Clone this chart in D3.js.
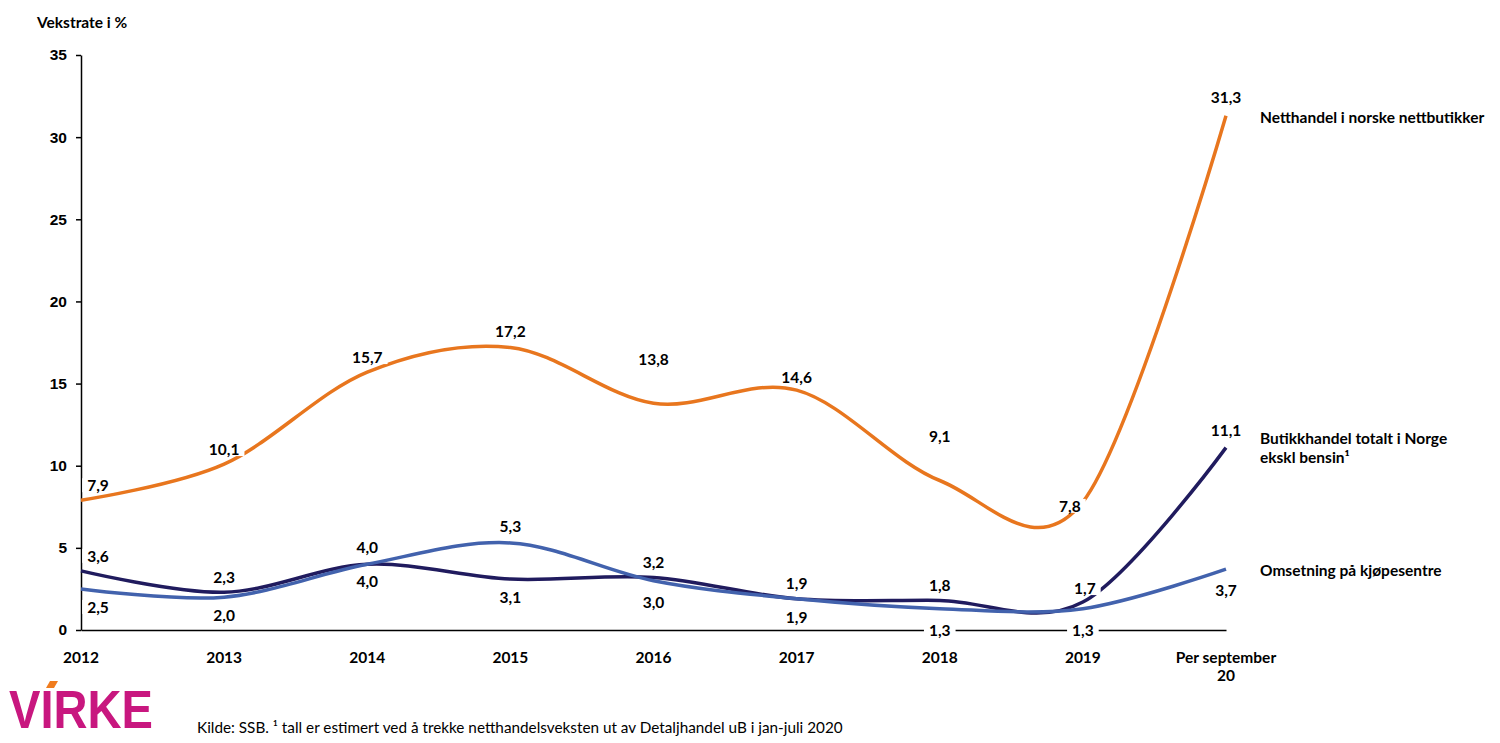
<!DOCTYPE html>
<html>
<head>
<meta charset="utf-8">
<script src="https://cdn.jsdelivr.net/npm/d3@7"></script>
<style>
  body { margin: 0; background: #fff; }
  svg { display: block; font-family: Lato, "Open Sans", sans-serif; }
  .axis path, .axis line { stroke: #000; stroke-width: 1.5; }
  .axis text { font-size: 15.5px; font-weight: bold; fill: #000; }
  .lbl { font-size: 15.5px; font-weight: bold; fill: #000; }
</style>
</head>
<body>
<script>
// categories and values
var years = ["2012", "2013", "2014", "2015", "2016", "2017", "2018", "2019", "Per september 20"];
var netthandel = [7.9, 10.1, 15.7, 17.2, 13.8, 14.6, 9.1, 7.8, 31.3];
var butikkhandel = [3.6, 2.3, 4.0, 3.1, 3.2, 1.9, 1.8, 1.7, 11.1];
var kjopesentre = [2.5, 2.0, 4.0, 5.3, 3.0, 1.9, 1.3, 1.3, 3.7];
var yTicks = [0, 5, 10, 15, 20, 25, 30, 35];

// label nudges (px), like the manually placed excel labels
var offOrange = [[17,-15],[0,-15],[0,-15],[0,-16],[0,-44],[0,-13],[0,-45],[-13,4],[0,-19]];
var offNavy   = [[17,-15],[0,-15],[0,-17],[0,18],[0,-15],[0,-16],[0,-15],[2,-14],[0,-18]];
var offLight  = [[17,18],[0,18],[0,17],[0,-17],[0,21],[0,18],[0,21],[0,21],[0,21]];

var series = [
  {name: "Netthandel i norske nettbutikker", values: netthandel, color: "#e8761e", off: offOrange},
  {name: "Butikkhandel totalt i Norge|ekskl bensin¹", values: butikkhandel, color: "#201b5e", off: offNavy},
  {name: "Omsetning på kjøpesentre", values: kjopesentre, color: "#4262ad", off: offLight}
];
var legendY = [117, 438, 570];

var W = 1500, H = 743;
var margin = {top: 55, left: 81, right: 274, bottom: 113};

var svg = d3.select("body").append("svg")
  .attr("width", W).attr("height", H);

var x = d3.scalePoint()
  .domain(years)
  .range([margin.left, W - margin.right]);

var y = d3.scaleLinear()
  .domain([0, 35])
  .range([H - margin.bottom, margin.top]);

function fmt(v) { return d3.format(".1f")(v).replace(".", ","); }

// y axis
svg.append("g")
  .attr("class", "axis")
  .attr("transform", "translate(" + margin.left + ",0)")
  .call(d3.axisLeft(y).tickValues(yTicks).tickSize(5).tickPadding(9).tickSizeOuter(0));

// x axis (line only, labels separately)
svg.append("g")
  .attr("class", "axis")
  .attr("transform", "translate(0," + y(0) + ")")
  .call(d3.axisBottom(x).tickSize(0).tickFormat(""));

svg.selectAll(".xlab")
  .data(years)
  .enter().append("text")
    .attr("class", "lbl")
    .attr("text-anchor", "middle")
    .attr("x", function(d) { return x(d); })
    .attr("y", y(0) + 33)
    .each(function(d) {
      var parts = d === "Per september 20" ? ["Per september", "20"] : [d];
      var t = d3.select(this);
      parts.forEach(function(p, i) {
        t.append("tspan").attr("x", x(d)).attr("dy", i === 0 ? 0 : 18).text(p);
      });
    });

svg.append("text")
  .attr("class", "lbl")
  .attr("x", 37).attr("y", 28)
  .text("Vekstrate i %");

// lines
var line = d3.line()
  .x(function(d, i) { return x(years[i]); })
  .y(function(d) { return y(d); })
  .curve(d3.curveCardinal.tension(0));

svg.selectAll(".series")
  .data(series)
  .enter().append("path")
    .attr("fill", "none")
    .attr("stroke", function(d) { return d.color; })
    .attr("stroke-width", 3.5)
    .attr("d", function(d) { return line(d.values); });

// data labels with white box (breaks the lines / axis like the original)
series.forEach(function(s) {
  var g = svg.append("g");
  s.values.forEach(function(v, i) {
    var cx = x(years[i]) + s.off[i][0];
    var cy = y(v) + s.off[i][1];
    var t = g.append("text")
      .attr("class", "lbl")
      .attr("text-anchor", "middle")
      .attr("dominant-baseline", "central")
      .attr("x", cx).attr("y", cy)
      .text(fmt(v));
    var bb = t.node().getBBox();
    g.insert("rect", "text")
      .attr("x", bb.x - 5).attr("y", cy - 7)
      .attr("width", bb.width + 10).attr("height", 14)
      .attr("fill", "#fff");
  });
});

// legend labels at the line ends
series.forEach(function(s, k) {
  var t = svg.append("text")
    .attr("class", "lbl")
    .attr("x", 1260).attr("y", legendY[k])
    .attr("dominant-baseline", "central");
  s.name.split("|").forEach(function(p, i) {
    t.append("tspan").attr("x", 1260).attr("dy", i === 0 ? 0 : 19).text(p);
  });
});

// footer
svg.append("text")
  .attr("x", 197).attr("y", 733)
  .attr("font-size", "15.3px")
  .attr("fill", "#000")
  .text("Kilde: SSB. ¹ tall er estimert ved å trekke netthandelsveksten ut av Detaljhandel uB i jan-juli 2020");

// logo
var logo = svg.append("g");
logo.append("text")
  .attr("x", 9).attr("y", 728)
  .attr("font-family", "Liberation Sans, Arial, sans-serif")
  .attr("font-weight", "bold")
  .attr("font-size", "53px")
  .attr("fill", "#c8177f")
  .attr("textLength", 144)
  .attr("lengthAdjust", "spacingAndGlyphs")
  .text("VIRKE");
logo.append("path")
  .attr("d", "M50,681 L58,681 L54,688 L46,688 Z")
  .attr("fill", "#f07c1e");
</script>
</body>
</html>
